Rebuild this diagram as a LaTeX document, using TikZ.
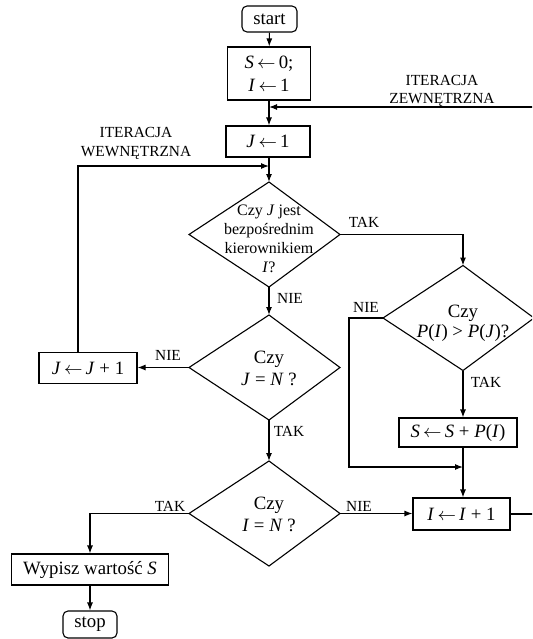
\documentclass[tikz,border=0pt]{standalone}
\usepackage{fontspec}
\setmainfont{Liberation Serif}
\usetikzlibrary{arrows.meta}
\newcommand{\mainf}{\fontsize{9.4}{11}\selectfont}
\newcommand{\smallf}{\fontsize{8}{9.5}\selectfont}
\newcommand{\tightf}{\fontsize{9.4}{9.8}\selectfont}
\newcommand{\labf}{\fontsize{7.7}{9.2}\selectfont}
\newcommand{\la}{\,$\leftarrow$\,}
\newcommand{\flowdia}[6][]{%
  \node[dtext,#1] (#2) at (#3,#5) {#6};
  \coordinate (#2-l) at ({#3-80},#4);
  \coordinate (#2-r) at ({#3+71},#4);
  \coordinate (#2-t) at (#3,{#4-52.5});
  \coordinate (#2-b) at (#3,{#4+52.5});
  \draw[line] (#2-l) -- (#2-t) -- (#2-r) -- (#2-b) -- cycle;}
\tikzset{
  line/.style={line width=0.55pt},
  arr/.style={line, -{Latex[length=4pt,width=3pt]}},
  box/.style={draw, line, rectangle, inner sep=0pt, font=\mainf, align=center},
  term/.style={box, rounded corners=2.5pt},
  lab/.style={font=\labf, inner sep=0pt, align=center},
  dtext/.style={align=center, font=\mainf, inner sep=0pt}
}
\begin{document}
\begin{tikzpicture}[x=0.5pt,y=-0.5pt]
\useasboundingbox (0,0) rectangle (532,639);
\begin{scope}
\clip (0,0) rectangle (532,639);
% boxes
\node[term, minimum width=27.5pt, minimum height=13pt] (start) at (269.5,19) {start};
\node[box, minimum width=41.5pt, minimum height=26.5pt] (init) at (269,73.5) {\textit{S}\la 0;\\[0.5pt]\textit{I}\la 1};
\node[box, minimum width=42pt, minimum height=15.5pt] (j1) at (268,141.5) {\textit{J}\la 1};
\node[box, minimum width=49pt, minimum height=15.5pt] (jinc) at (88,368) {\textit{J}\la \textit{J} + 1};
\node[box, minimum width=59pt, minimum height=14.5pt] (spp) at (458,432.5) {\textit{S}\la \textit{S} + \textit{P}(\textit{I})};
\node[box, minimum width=48.5pt, minimum height=16pt] (iinc) at (461.5,514) {\textit{I}\la \textit{I} + 1};
\node[box, minimum width=78.5pt, minimum height=15.5pt] (wyp) at (90,569.5) {Wypisz wartość \textit{S}};
\node[term, minimum width=27pt, minimum height=13.5pt] (stop) at (90,624.5) {stop};
% diamonds
\flowdia[font=\smallf]{d1}{269}{234.5}{238.5}{Czy \textit{J} jest\\bezpośrednim\\kierownikiem\\\textit{I}?}
\flowdia{d2}{269}{367.5}{368}{Czy\\\textit{J} = \textit{N} ?}
\flowdia{d3}{269}{513.5}{514}{Czy\\\textit{I} = \textit{N} ?}
\flowdia[font=\tightf]{dp}{463}{318}{323.5}{Czy\\\textit{P}(\textit{I}) > \textit{P}(\textit{J})?}
% helper coordinates
\coordinate (ojoin) at (269,107);
\coordinate (outer) at (545,300);
\coordinate (ijoin) at (269,166);
\coordinate (iloop) at (78,166);
\coordinate (nl) at (349,467);
\coordinate (nm) at (463,467);
% connectors
\draw[arr] (start) -- (init);
\draw[arr] (init.south -| ojoin) -- (j1.north -| ojoin);
\draw[arr] (j1.south -| d1-t) -- (d1-t);
\draw[arr] (iinc.east) -| (outer) |- (ojoin);
\draw[arr] (jinc.north -| iloop) -- (iloop) -- (ijoin);
\draw[arr] (d1-r) -| (dp-t);
\draw[arr] (d1-b) -- (d2-t);
\draw[arr] (d2-l) -- (d2-l -| jinc.east);
\draw[arr] (d2-b) -- (d3-t);
\draw[arr] (d3-l) -| (wyp.north);
\draw[arr] (wyp) -- (stop);
\draw[arr] (d3-r) -- (d3-r -| iinc.west);
\draw[arr] (dp-l) -| (nl) -- (nm);
\draw[arr] (dp-b) -- (dp-b |- spp.north);
\draw[arr] (spp.south -| dp-b) -- (iinc.north -| dp-b);
% labels
\node[lab] (lz) at (442,91) {ITERACJA\\ZEWNĘTRZNA};
\node[lab] (lw) at (136,143.5) {ITERACJA\\WEWNĘTRZNA};
\node[lab] (t1) at (364,222) {TAK};
\node[lab] (n1) at (290,298) {NIE};
\node[lab] (n2) at (168,355) {NIE};
\node[lab] (t2) at (289,431) {TAK};
\node[lab] (n3) at (366,307) {NIE};
\node[lab] (t3) at (486,382) {TAK};
\node[lab] (t4) at (170,506) {TAK};
\node[lab] (n4) at (359,506) {NIE};
\end{scope}
\end{tikzpicture}
\end{document}
